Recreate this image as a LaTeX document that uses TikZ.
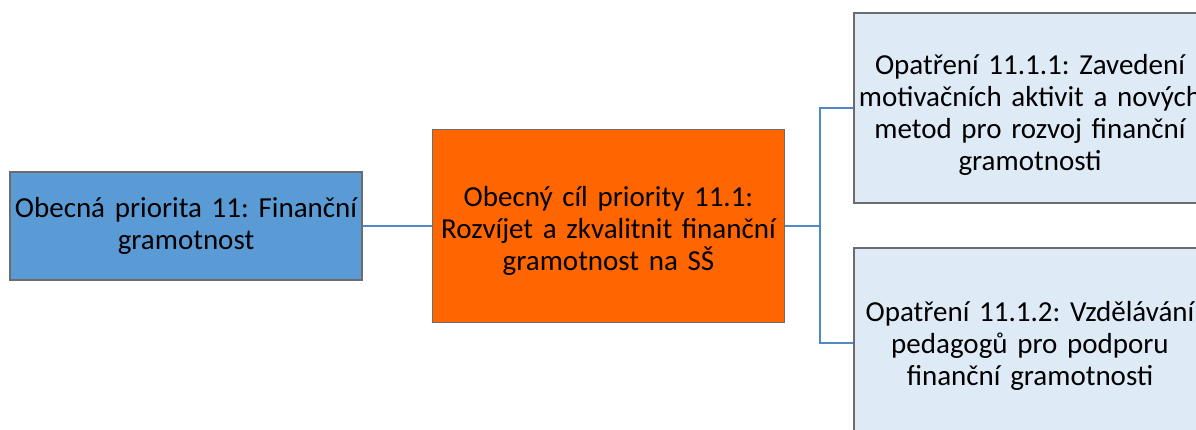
\documentclass[tikz,border=0pt]{standalone}
\usepackage{fontspec}
\setmainfont{Carlito}
\usepackage{xcolor}
\definecolor{prioblue}{HTML}{5B9BD5}
\definecolor{goalorange}{HTML}{FF6600}
\definecolor{measurefill}{HTML}{DEEBF7}
\definecolor{linkblue}{HTML}{5089C6}

\begin{document}
\begin{tikzpicture}[x=1pt,y=-1pt,
		box/.style={draw=gray!85!black, line width=1.2pt, rectangle, minimum width=352pt, inner sep=0pt},
		boxtext/.style={text width=346pt, align=center, inner sep=0pt, font=\fontsize{29}{32}\selectfont\frenchspacing},
		link/.style={draw=linkblue, line width=2pt}]
		\useasboundingbox (0,0) rectangle (1196,429);
		% boxes
		\node[box, fill=prioblue, minimum height=108pt] (prio) at (186,226) {};
		\node[box, fill=goalorange, minimum height=193pt] (goal) at (608.5,226) {};
		\node[box, fill=measurefill, minimum height=190pt] (opt1) at (1030,108) {};
		\node[box, fill=measurefill, minimum height=190pt] (opt2) at (1030,343) {};
		% texts
		\node[boxtext] (priotext) at (prio) {Obecná priorita 11: Finanční\\ gramotnost};
		\node[boxtext, yshift=-5pt] (goaltext) at (goal) {Obecný cíl priority 11.1:\\ Rozvíjet a zkvalitnit finanční\\ gramotnost na SŠ};
		\node[boxtext, yshift=-7pt] (opt1text) at (opt1) {Opatření 11.1.1: Zavedení\\ motivačních aktivit a nových\\ metod pro rozvoj finanční\\ gramotnosti};
		\node[boxtext, yshift=-3pt] (opt2text) at (opt2) {Opatření 11.1.2: Vzdělávání\\ pedagogů pro podporu\\ finanční gramotnosti};
		% connectors
		\coordinate (fork) at (820,226);
		\draw[link] (prio.east) -- (goal.west);
		\draw[link] (goal.east) -- (fork);
		\draw[link] (fork) |- (opt1.west);
		\draw[link] (fork) |- (opt2.west);
		\end{tikzpicture}
\end{document}
